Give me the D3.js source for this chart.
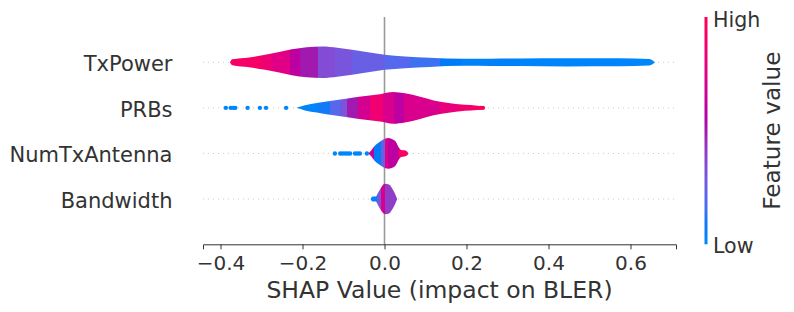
<!DOCTYPE html>
<html>
<head>
<meta charset="utf-8">
<script src="https://cdn.jsdelivr.net/npm/d3@7"></script>
<style>
  body { margin: 0; background: #fff; }
  text { font-family: "DejaVu Sans", sans-serif; fill: #333; }
</style>
</head>
<body>
<div id="chart"></div>
<script>
// ---- data ----
const features = ["TxPower", "PRBs", "NumTxAntenna", "Bandwidth"];
const xTicks = [-0.4, -0.2, 0.0, 0.2, 0.4, 0.6];

// violin outlines: shap value -> relative density (1 = widest)
const txPowerShap    = [-0.377, -0.371, -0.33, -0.291, -0.26, -0.226, -0.19, -0.152, -0.115, -0.079, -0.04, 0.0, 0.05, 0.11, 0.19, 0.26, 0.33, 0.445, 0.574, 0.645, 0.66];
const txPowerDensity = [0, 0.19, 0.31, 0.47, 0.63, 0.82, 0.95, 1.0, 0.92, 0.79, 0.63, 0.47, 0.37, 0.29, 0.22, 0.23, 0.24, 0.26, 0.25, 0.21, 0];
const prbsShap       = [-0.215, -0.194, -0.165, -0.133, -0.09, -0.052, -0.011, 0.021, 0.05, 0.087, 0.12, 0.152, 0.196, 0.226, 0.243];
const prbsDensity    = [0, 0.16, 0.30, 0.44, 0.60, 0.74, 0.86, 1.0, 0.92, 0.70, 0.47, 0.32, 0.19, 0.14, 0];
const numTxShap      = [-0.039, -0.032, -0.023, -0.013, -0.004, 0.009, 0.018, 0.028, 0.035, 0.041, 0.048, 0.055, 0.058];
const numTxDensity   = [0, 0.2, 0.5, 0.7, 0.86, 0.97, 0.92, 0.73, 0.38, 0.22, 0.2, 0.13, 0];
const bandwidthShap    = [-0.034, -0.029, -0.021, -0.016, -0.009, 0.001, 0.011, 0.018, 0.026, 0.031];
const bandwidthDensity = [0, 0.16, 0.16, 0.38, 0.7, 0.96, 0.92, 0.7, 0.32, 0];

// colour strips: left edge (shap value) and mean feature value (0 low .. 1 high)
const txPowerStripEdge  = [-0.38, -0.299, -0.274, -0.230, -0.206, -0.162, -0.121, -0.079, 0.0, 0.063, 0.135, 0.189, 0.33, 0.477];
const txPowerStripValue = [0.9, 0.84, 0.76, 0.6, 0.5, 0.34, 0.3, 0.25, 0.2, 0.15, 0.09, 0.05, 0.03, 0.02];
const prbsStripEdge     = [-0.22, -0.162, -0.133, -0.108, -0.091, -0.065, -0.035, -0.004, 0.023, 0.048, 0.135, 0.179, 0.213];
const prbsStripValue    = [0.03, 0.1, 0.2, 0.3, 0.5, 0.7, 0.85, 0.72, 0.6, 0.72, 0.8, 0.87, 0.93];
const numTxStripEdge    = [-0.04, -0.026, -0.009, 0.001, 0.009, 0.036];
const numTxStripValue   = [0.6, 0.08, 0.25, 0.75, 0.6, 0.95];
const bandwidthStripEdge  = [-0.035, -0.018, -0.009, 0.001];
const bandwidthStripValue = [0.05, 0.3, 0.72, 0.4];

// scattered points beyond the violins
const prbsDots       = [-0.387, -0.375, -0.369, -0.364, -0.334, -0.304, -0.289, -0.240, 0.228, 0.234, 0.240];
const prbsDotValue   = [0.02, 0.02, 0.02, 0.02, 0.02, 0.02, 0.02, 0.02, 0.98, 0.98, 0.98];
const numTxDots      = [-0.121, -0.108, -0.102, -0.096, -0.090, -0.084, -0.072, -0.066, -0.060, -0.043];
const numTxDotValue  = [0.02, 0.02, 0.02, 0.02, 0.02, 0.02, 0.02, 0.02, 0.02, 0.02];

const violins = [
  {name: "TxPower", shap: txPowerShap, density: txPowerDensity, edge: txPowerStripEdge, value: txPowerStripValue, dots: [], dotValue: []},
  {name: "PRBs", shap: prbsShap, density: prbsDensity, edge: prbsStripEdge, value: prbsStripValue, dots: prbsDots, dotValue: prbsDotValue},
  {name: "NumTxAntenna", shap: numTxShap, density: numTxDensity, edge: numTxStripEdge, value: numTxStripValue, dots: numTxDots, dotValue: numTxDotValue},
  {name: "Bandwidth", shap: bandwidthShap, density: bandwidthDensity, edge: bandwidthStripEdge, value: bandwidthStripValue, dots: [], dotValue: []}
];

// shap's red_blue colormap (lch interpolation)
function redBlue(t) {
  const l = t < 0.5 ? 54 - 28 * t : 40 + 28 * (t - 0.5);
  return d3.hcl(266.93 + t * (380.32 - 266.93), 70 + 20 * t, l).formatHex();
}

const svgWidth = 794, svgHeight = 312;
const svg = d3.select("#chart").append("svg")
  .attr("width", svgWidth)
  .attr("height", svgHeight);

const x = d3.scaleLinear().domain([-0.4427, 0.711]).range([203, 676]);
const y = d3.scalePoint().domain(features).range([62.3, 199]);
const w = d3.scaleLinear().domain([0, 1]).range([0, y.step() * 0.347]);
const plotTop = 17, plotBottom = 244.3;

const defs = svg.append("defs");

// dotted row guides
svg.append("g").selectAll("line")
  .data(features)
  .join("line")
    .attr("x1", x.range()[0]).attr("x2", x.range()[1])
    .attr("y1", d => y(d)).attr("y2", d => y(d))
    .attr("stroke", "#cccccc").attr("stroke-width", 1)
    .attr("stroke-dasharray", "1,4");

// zero line
svg.append("line")
  .attr("x1", x(0)).attr("x2", x(0))
  .attr("y1", plotTop).attr("y2", plotBottom)
  .attr("stroke", "#999999").attr("stroke-width", 1.6);

// dots
violins.forEach(v => {
  svg.append("g").selectAll("circle")
    .data(v.dots)
    .join("circle")
      .attr("cx", d => x(d))
      .attr("cy", y(v.name))
      .attr("r", 2.2)
      .attr("fill", (d, i) => redBlue(v.dotValue[i]));
});

// violins with stepped colour gradient
violins.forEach((v, k) => {
  const grad = defs.append("linearGradient")
    .attr("id", "vg" + k)
    .attr("gradientUnits", "userSpaceOnUse")
    .attr("x1", 0).attr("x2", svgWidth).attr("y1", 0).attr("y2", 0);
  v.edge.forEach((e, i) => {
    const start = x(e) / svgWidth;
    const end = i < v.edge.length - 1 ? x(v.edge[i + 1]) / svgWidth : 1;
    grad.append("stop").attr("offset", i === 0 ? 0 : start).attr("stop-color", redBlue(v.value[i]));
    grad.append("stop").attr("offset", end).attr("stop-color", redBlue(v.value[i]));
  });

  const pts = v.shap.map((s, i) => ({s: s, d: v.density[i]}));
  const cy = y(v.name);
  const area = d3.area()
    .x(d => x(d.s))
    .y0(d => cy - w(d.d))
    .y1(d => cy + w(d.d))
    .curve(d3.curveMonotoneX);
  svg.append("path")
    .datum(pts)
    .attr("d", area)
    .attr("fill", "url(#vg" + k + ")");
});

// x axis
const xAxis = svg.append("g")
  .attr("transform", "translate(0," + plotBottom + ")")
  .call(d3.axisBottom(x).tickValues(xTicks).tickSize(5).tickPadding(7)
    .tickFormat(d => d3.format(".1f")(d).replace("-", "\u2212")));
xAxis.select(".domain").attr("stroke", "#333").attr("stroke-width", 1);
xAxis.selectAll(".tick line").attr("stroke", "#333");
xAxis.selectAll(".tick text")
  .attr("font-size", 20).attr("fill", "#333")
  .attr("font-family", "DejaVu Sans");

svg.append("text")
  .attr("x", (x.range()[0] + x.range()[1]) / 2)
  .attr("y", 298)
  .attr("text-anchor", "middle")
  .attr("font-size", 23.5)
  .text("SHAP Value (impact on BLER)");

// feature labels
svg.append("g").selectAll("text")
  .data(features)
  .join("text")
    .attr("x", 172.5)
    .attr("y", d => y(d) + 9)
    .attr("text-anchor", "end")
    .attr("font-size", 21)
    .text(d => d);

// colour bar
const cbar = defs.append("linearGradient")
  .attr("id", "cbar").attr("x1", 0).attr("x2", 0).attr("y1", 1).attr("y2", 0);
d3.range(0, 1.0001, 0.05).forEach(t => {
  cbar.append("stop").attr("offset", t).attr("stop-color", redBlue(t));
});
svg.append("rect")
  .attr("x", 704.5).attr("y", plotTop)
  .attr("width", 3).attr("height", plotBottom - plotTop)
  .attr("fill", "url(#cbar)");
svg.append("text").attr("x", 713).attr("y", 27).attr("font-size", 20.6).text("High");
svg.append("text").attr("x", 713).attr("y", 253).attr("font-size", 20.6).text("Low");
svg.append("text")
  .attr("transform", "translate(779.5," + ((plotTop + plotBottom) / 2) + ") rotate(-90)")
  .attr("text-anchor", "middle")
  .attr("font-size", 23.2)
  .text("Feature value");
</script>
</body>
</html>
